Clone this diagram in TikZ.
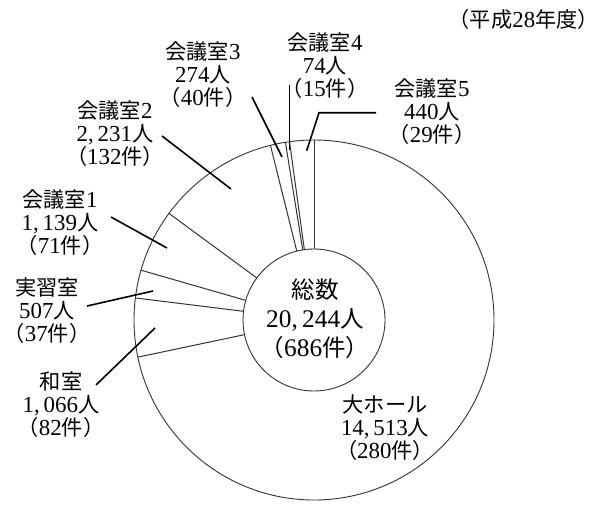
\documentclass[tikz,border=0pt]{standalone}
\usepackage{fontspec}
\setmainfont{Liberation Serif}[Scale=1.08]
\newfontfamily\cjk{Noto Sans CJK JP}
\newcommand{\jtext}[1]{{\cjk #1}}
\usetikzlibrary{calc}
\begin{document}
\begin{tikzpicture}[x=1pt,y=-1pt,
  ring/.style={circle,draw=black!80,line width=0.9pt,inner sep=0pt},
  seg/.style={draw=black!80,line width=1pt},
  lead/.style={draw=black,line width=1.6pt},
  lbl/.style={align=center,font=\fontsize{21.2}{23}\selectfont,inner sep=0pt},
  big/.style={align=center,font=\fontsize{23.5}{29}\selectfont,inner sep=0pt}]
\path[use as bounding box] (0,0) rectangle (600,504);
\coordinate (C) at (314,320);
\node[ring,minimum size=360pt] (outer) at (C) {};
\foreach \a in {90,191.91,172.96,163.94,143.69,104.01,99.14,97.82}
  \draw[seg] ($(C)+({71*cos(\a)},{-71*sin(\a)})$) -- ($(C)+({180*cos(\a)},{-180*sin(\a)})$);
\node[ring,fill=white,minimum size=142pt] (inner) at (C) {};
\node[big] (total) at (315,319) {\jtext{総数}\\20,\,244\jtext{人}\\\jtext{（}686\jtext{件）}};
\node[lbl,anchor=east] (year) at (599,19) {\jtext{（平成}28\jtext{年度）}};
\node[lbl] (l5) at (432,112) {\jtext{会議室}5\\440\jtext{人}\\\jtext{（}29\jtext{件）}};
\node[lbl] (l4) at (325,66) {\jtext{会議室}4\\74\jtext{人}\\\jtext{（}15\jtext{件）}};
\node[lbl] (l3) at (203,75) {\jtext{会議室}3\\274\jtext{人}\\\jtext{（}40\jtext{件）}};
\node[lbl] (l2) at (115,134) {\jtext{会議室}2\\2,\,231\jtext{人}\\\jtext{（}132\jtext{件）}};
\node[lbl] (l1) at (60,223) {\jtext{会議室}1\\1,\,139\jtext{人}\\\jtext{（}71\jtext{件）}};
\node[lbl] (lj) at (47,311) {\jtext{実習室}\\507\jtext{人}\\\jtext{（}37\jtext{件）}};
\node[lbl] (lw) at (61,405) {\jtext{和室}\\1,\,066\jtext{人}\\\jtext{（}82\jtext{件）}};
\node[lbl] (lh) at (385,428) {\jtext{大ホール}\\14,\,513\jtext{人}\\\jtext{（}280\jtext{件）}};
% leader lines
\coordinate (a5) at (306.7,150.7); \coordinate (b5) at (319,112.7); \coordinate (c5) at (376,112.7);
\coordinate (a4) at (289.3,150); \coordinate (b4) at (289.3,85);
\coordinate (a3) at (282,157); \coordinate (b3) at (252,97);
\coordinate (a2) at (231,189); \coordinate (b2) at (162,136);
\coordinate (a1) at (167,248); \coordinate (b1) at (111,217);
\coordinate (aj) at (153,291); \coordinate (bj) at (87,306);
\coordinate (aw) at (155,328); \coordinate (bw) at (96,385);
\draw[lead] (a5) -- (b5) -- (c5);
\draw[lead] (a4) -- (b4);
\draw[lead] (a3) -- (b3);
\draw[lead] (a2) -- (b2);
\draw[lead] (a1) -- (b1);
\draw[lead] (aj) -- (bj);
\draw[lead] (aw) -- (bw);
\end{tikzpicture}
\end{document}
